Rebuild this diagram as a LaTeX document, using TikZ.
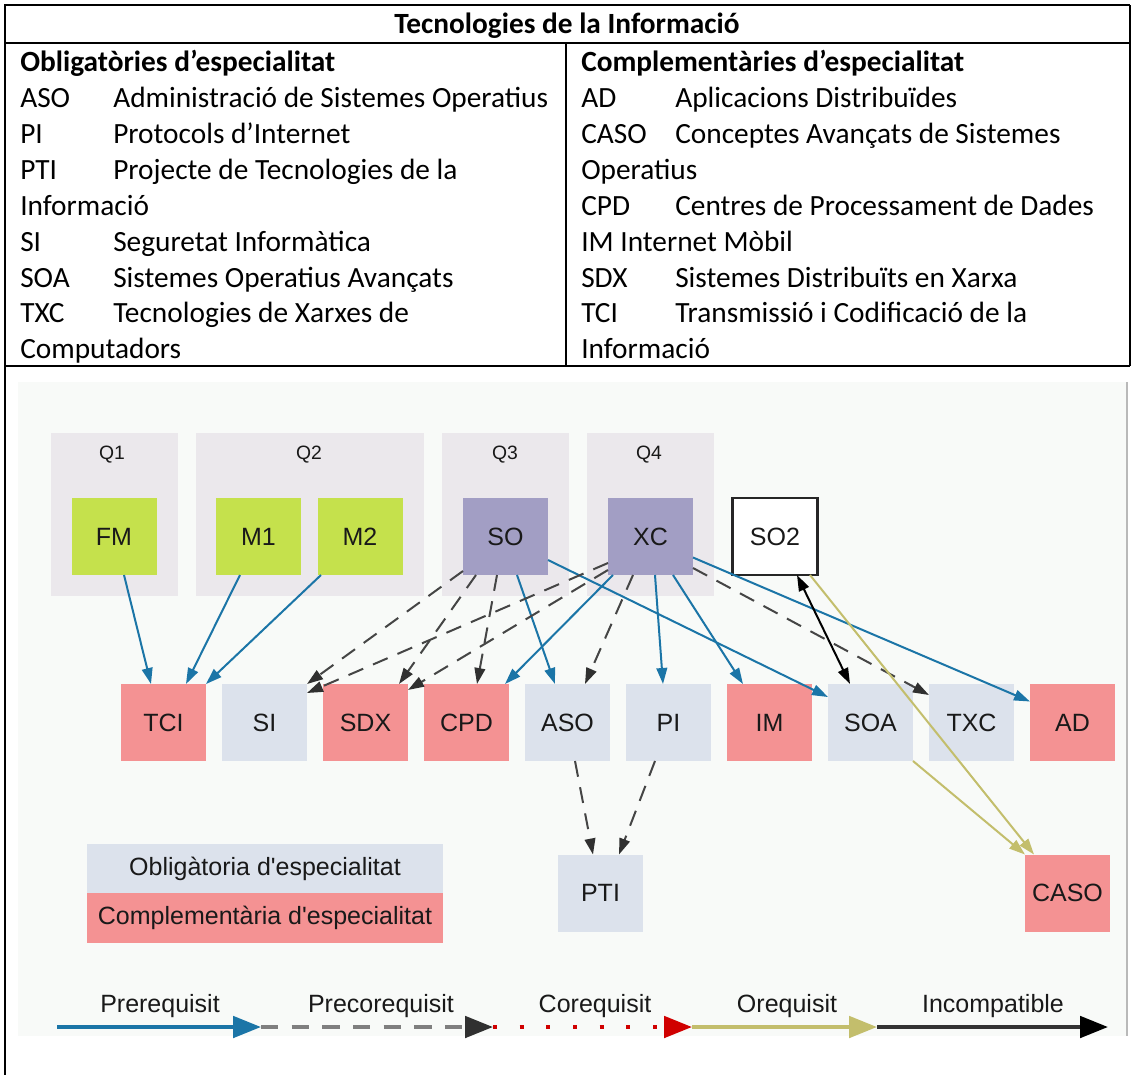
\documentclass[tikz,border=0pt]{standalone}
\usepackage{fontspec}
\setmainfont{Carlito}
\newfontfamily\arial{Liberation Sans}
\usetikzlibrary{arrows.meta,calc}
\definecolor{qgray}{HTML}{EBE8EC}
\definecolor{mgreen}{HTML}{C5E14C}
\definecolor{spurple}{HTML}{A29EC4}
\definecolor{cpink}{HTML}{F49293}
\definecolor{olight}{HTML}{DCE2EC}
\definecolor{bgd}{HTML}{F8FAF8}
\definecolor{preblue}{HTML}{1B75A7}
\definecolor{dashgray}{HTML}{454545}
\definecolor{dashdark}{HTML}{303030}
\definecolor{legdash}{HTML}{7F7F7F}
\definecolor{oliv}{HTML}{C3BE6C}
\definecolor{coreq}{HTML}{D00000}
\definecolor{incl}{HTML}{333333}
\tikzset{
  tbl/.style={line width=1.1pt, black},
  ttext/.style={anchor=base west, inner sep=0pt, font=\fontsize{22}{26}\selectfont},
  course/.style={minimum width=63.75pt, minimum height=57.75pt, inner sep=0pt, outer sep=0pt,
    font=\arial\fontsize{18.75}{22}\selectfont, text=black!90},
  qlabel/.style={inner sep=0pt, font=\arial\fontsize{14.5}{17}\selectfont, text=black!90},
  prereq/.style={draw=preblue, line width=1.5pt, -{Triangle[length=12pt,width=8pt]}},
  precoreq/.style={draw=dashgray, line width=1.5pt, dash pattern=on 12pt off 8pt,
    -{Triangle[length=12pt,width=8pt,color=dashdark]}},
  oreq/.style={draw=oliv, line width=1.5pt, -{Triangle[length=12pt,width=8pt]}},
  incompat/.style={draw=black, line width=1.5pt, {Triangle[length=12pt,width=8pt]}-{Triangle[length=12pt,width=8pt]}},
  legline/.style={line width=3pt},
  legarrow/.style={-{Triangle[length=21pt,width=16pt,#1]}},
  legarrow/.default={},
  leglabel/.style={anchor=base, inner sep=0pt, font=\arial\fontsize{18.75}{22}\selectfont, text=black!90},
  legbox/.style={minimum width=267pt, inner sep=0pt, font=\arial\fontsize{18.75}{22}\selectfont, text=black!90}
}
\begin{document}
\begin{tikzpicture}[x=0.75pt,y=-0.75pt]
\useasboundingbox (0,0) rectangle (1132,1075);
\fill[white] (0,0) rectangle (1132,1075);
% diagram background
\fill[bgd] (18,382) rectangle (1127,1036);
\draw[gray!55, line width=1.4pt] (1127,382) -- (1127,1036);
% table lines
\draw[tbl] (4,5) -- (1130,5);
\draw[tbl] (4,43) -- (1130,43);
\draw[tbl] (566,43) -- (566,366);
\draw[tbl] (4,366) -- (1130,366);
\draw[tbl] (5,5) -- (5,1075);
\draw[tbl] (1130,5) -- (1130,366);
% table text
\node[anchor=base, inner sep=0pt, font=\bfseries\fontsize{22}{26}\selectfont] (title) at (567,33.5) {Tecnologies de la Informació};
\node[ttext, font=\bfseries\fontsize{22}{26}\selectfont] (lh) at (20,71.5) {Obligatòries d’especialitat};
\node[ttext] (l1a) at (20,107.5) {ASO};
\node[ttext] (l1b) at (113,107.5) {Administració de Sistemes Operatius};
\node[ttext] (l2a) at (20,143.5) {PI};
\node[ttext] (l2b) at (113,143.5) {Protocols d’Internet};
\node[ttext] (l3a) at (20,179.5) {PTI};
\node[ttext] (l3b) at (113,179.5) {Projecte de Tecnologies de la};
\node[ttext] (l3c) at (20,215) {Informació};
\node[ttext] (l4a) at (20,251) {SI};
\node[ttext] (l4b) at (113,251) {Seguretat Informàtica};
\node[ttext] (l5a) at (20,287) {SOA};
\node[ttext] (l5b) at (113,287) {Sistemes Operatius Avançats};
\node[ttext] (l6a) at (20,322.5) {TXC};
\node[ttext] (l6b) at (113,322.5) {Tecnologies de Xarxes de};
\node[ttext] (l6c) at (20,358.5) {Computadors};
\node[ttext, font=\bfseries\fontsize{22}{26}\selectfont] (rh) at (581,71.5) {Complementàries d’especialitat};
\node[ttext] (r1a) at (581,107.5) {AD};
\node[ttext] (r1b) at (675,107.5) {Aplicacions Distribuïdes};
\node[ttext] (r2a) at (581,143.5) {CASO};
\node[ttext] (r2b) at (675,143.5) {Conceptes Avançats de Sistemes};
\node[ttext] (r2c) at (581,179.5) {Operatius};
\node[ttext] (r3a) at (581,215) {CPD};
\node[ttext] (r3b) at (675,215) {Centres de Processament de Dades};
\node[ttext] (r4a) at (581,251) {IM Internet Mòbil};
\node[ttext] (r5a) at (581,287) {SDX};
\node[ttext] (r5b) at (675,287) {Sistemes Distribuïts en Xarxa};
\node[ttext] (r6a) at (581,322.5) {TCI};
\node[ttext] (r6b) at (675,322.5) {Transmissió i Codificació de la};
\node[ttext] (r6c) at (581,358.5) {Informació};
% quarter boxes
\fill[qgray] (51,433) rectangle (178,596);
\fill[qgray] (196,433) rectangle (424,596);
\fill[qgray] (442,433) rectangle (569,596);
\fill[qgray] (587,433) rectangle (714,596);
\node[qlabel] (q1) at (112,455) {Q1};
\node[qlabel] (q2) at (309,455) {Q2};
\node[qlabel] (q3) at (505,455) {Q3};
\node[qlabel] (q4) at (649,455) {Q4};
% top row
\node[course, fill=mgreen] (FM) at (114,536.5) {FM};
\node[course, fill=mgreen] (M1) at (258.5,536.5) {M1};
\node[course, fill=mgreen] (M2) at (360,536.5) {M2};
\node[course, fill=spurple] (SO) at (505.5,536.5) {SO};
\node[course, fill=spurple] (XC) at (650.5,536.5) {XC};
\node[course, fill=white, draw=black!85, line width=2pt] (SO2) at (775,536.5) {SO2};
% bottom row
\node[course, fill=cpink] (TCI) at (163.5,722.5) {TCI};
\node[course, fill=olight] (SI) at (264.5,722.5) {SI};
\node[course, fill=cpink] (SDX) at (365.5,722.5) {SDX};
\node[course, fill=cpink] (CPD) at (466.5,722.5) {CPD};
\node[course, fill=olight] (ASO) at (567.5,722.5) {ASO};
\node[course, fill=olight] (PI) at (668.5,722.5) {PI};
\node[course, fill=cpink] (IM) at (769.5,722.5) {IM};
\node[course, fill=olight] (SOA) at (870.5,722.5) {SOA};
\node[course, fill=olight] (TXC) at (971.5,722.5) {TXC};
\node[course, fill=cpink] (AD) at (1072.5,722.5) {AD};
\node[course, fill=olight] (PTI) at (600.5,893) {PTI};
\node[course, fill=cpink] (CASO) at (1067.5,893) {CASO};
% legend boxes
\node[legbox, fill=olight, minimum height=36.75pt] (legob) at (265,868.5) {Obligàtoria d\XeTeXglyph\XeTeXcharglyph"0027\relax especialitat};
\node[legbox, fill=cpink, minimum height=37.5pt] (legco) at (265,918) {Complementària d\XeTeXglyph\XeTeXcharglyph"0027\relax especialitat};
% prerequisit edges
\draw[prereq] ($(FM.south)+(10,0)$) -- ($(TCI.north)+(-12.5,0)$);
\draw[prereq] ($(M1.south)+(-18.5,0)$) -- ($(TCI.north)+(22.5,0)$);
\draw[prereq] ($(M2.south)+(-39,0)$) -- (TCI.north east);
\draw[prereq] ($(SO.south)+(11.5,0)$) -- ($(ASO.north)+(-12.5,0)$);
\draw[prereq] ($(SO.east)+(0,23.5)$) -- ($(SOA.west)+(0,-25.5)$);
\draw[prereq] ($(XC.south)+(-37.5,0)$) -- ($(CPD.north)+(38.5,0)$);
\draw[prereq] ($(XC.south)+(4.5,0)$) -- ($(PI.north)+(-5.5,0)$);
\draw[prereq] ($(XC.south)+(22.5,0)$) -- ($(IM.north)+(-26.5,0)$);
\draw[prereq] ($(XC.east)+(0,21)$) -- ($(AD.west)+(0,-21)$);
% precorequisit edges
\draw[precoreq] ($(SO.south west)+(0,-4)$) -- (SI.north east);
\draw[precoreq] ($(SO.south)+(-29.5,0)$) -- ($(SDX.north)+(33.5,0)$);
\draw[precoreq] ($(SO.south)+(-8.5,0)$) -- ($(CPD.north)+(10.5,0)$);
\draw[precoreq] ($(XC.west)+(0,26.5)$) -- ($(SI.east)+(0,-29.5)$);
\draw[precoreq] ($(XC.south west)+(0,-5)$) -- ($(SDX.north east)+(0,6)$);
\draw[precoreq] ($(XC.south)+(-17.5,0)$) -- ($(ASO.north)+(17.5,0)$);
\draw[precoreq] ($(XC.south east)+(0,-7)$) -- ($(TXC.north west)+(0,11)$);
\draw[precoreq] ($(ASO.south)+(7.5,0)$) -- ($(PTI.north)+(-7.5,0)$);
\draw[precoreq] ($(PI.south)+(-13.5,0)$) -- ($(PTI.north)+(18.5,0)$);
% incompatible
\draw[incompat] ($(SO2.south)+(22,0)$) -- ($(SOA.north)+(-20.5,0)$);
% orequisit
\draw[oreq] ($(SO2.south)+(35,0)$) -- ($(CASO.north west)+(9,0)$);
\draw[oreq] (SOA.south east) -- (CASO.north west);
% legend arrows
\coordinate (g0) at (57,1027);
\coordinate (g1) at (261,1027);
\coordinate (g2) at (493,1027);
\coordinate (g3) at (692,1027);
\coordinate (g4) at (877,1027);
\coordinate (g5) at (1108,1027);
\draw[legline, preblue, legarrow] (g0) -- (g1);
\draw[legline, legdash, dash pattern=on 13pt off 10pt, legarrow={color=dashdark}] (g1) -- (g2);
\draw[legline, coreq, dash pattern=on 3pt off 17pt, legarrow] (g2) -- (g3);
\draw[legline, oliv, legarrow] (g3) -- (g4);
\draw[legline, incl, legarrow={color=black}] (g4) -- (g5);
\node[leglabel] (lp1) at (160,1012) {Prerequisit};
\node[leglabel] (lp2) at (381,1012) {Precorequisit};
\node[leglabel] (lp3) at (595,1012) {Corequisit};
\node[leglabel] (lp4) at (787,1012) {Orequisit};
\node[leglabel] (lp5) at (993,1012) {Incompatible};
\end{tikzpicture}
\end{document}
